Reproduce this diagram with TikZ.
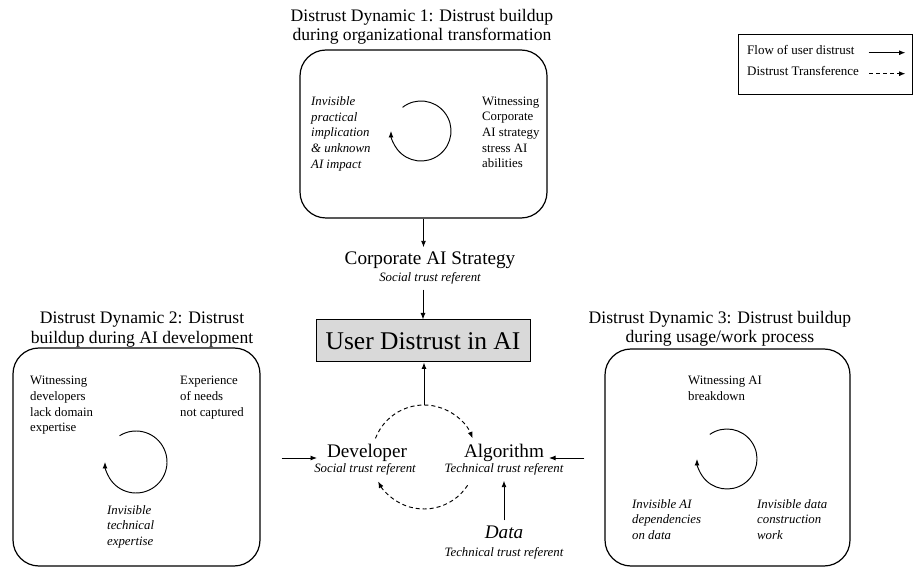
\documentclass[tikz,border=0pt]{standalone}
\usepackage{fontspec}
\setmainfont{Liberation Serif}
\usetikzlibrary{arrows.meta}
\begin{document}
\begin{tikzpicture}[x=1pt,y=-1pt,
  arrowhd/.style={-{Latex[length=6.5pt,width=5pt]}},
  flow/.style={draw, line width=0.95pt, arrowhd},
  transfer/.style={flow, dash pattern=on 4pt off 3pt},
  dynbox/.style={draw, line width=1.2pt, rounded corners=26pt, inner sep=0pt},
  title/.style={font=\fontsize{17.6}{19.3}\selectfont, align=center, anchor=north, inner sep=0pt},
  note/.style={font=\fontsize{12.8}{15.7}\selectfont, align=left, anchor=north west, inner sep=0pt},
  inote/.style={note, font=\fontsize{12.8}{15.7}\selectfont\itshape},
  ref/.style={font=\fontsize{12.8}{15}\selectfont\itshape, anchor=base, inner sep=0pt, outer sep=5pt},
  actor/.style={font=\fontsize{19.2}{22}\selectfont, anchor=base, inner sep=0pt, outer sep=5pt},
  legtext/.style={font=\fontsize{13}{15}\selectfont, anchor=base west, inner sep=0pt},
]
\useasboundingbox (0,0) rectangle (914,569);

% ---- the three distrust dynamics ----
\node[title] (t1) at (422,9) {Distrust Dynamic 1: Distrust buildup\\during organizational transformation};
\node[dynbox, minimum width=247pt, minimum height=168pt] (dyn1) at (423.5,134) {};
\node[inote] (d1a) at (311,96.5) {Invisible\\practical\\implication\\\& unknown\\AI impact};
\node[note] (d1b) at (482,96.5) {Witnessing\\Corporate\\AI strategy\\stress AI\\abilities};
\coordinate (loop1) at (421,131);
\draw[flow] ([shift={(-128:30)}]loop1) arc[start angle=-128, end angle=180, radius=30];

\node[title] (t2) at (142,312) {Distrust Dynamic 2: Distrust\\buildup during AI development};
\node[dynbox, minimum width=247pt, minimum height=218pt] (dyn2) at (136.5,457) {};
\node[note] (d2a) at (30,376) {Witnessing\\developers\\lack domain\\expertise};
\node[note] (d2b) at (180,376) {Experience\\of needs\\not captured};
\node[inote] (d2c) at (107,505) {Invisible\\technical\\expertise};
\coordinate (loop2) at (136,462);
\draw[flow] ([shift={(-122:31)}]loop2) arc[start angle=-122, end angle=180, radius=31];

\node[title] (t3) at (720,311) {Distrust Dynamic 3: Distrust buildup\\during usage/work process};
\node[dynbox, minimum width=245pt, minimum height=217pt] (dyn3) at (727.5,457.5) {};
\node[note] (d3a) at (688,376) {Witnessing AI\\breakdown};
\node[inote] (d3b) at (632,499) {Invisible AI\\dependencies\\on data};
\node[inote] (d3c) at (757,499) {Invisible data\\construction\\work};
\coordinate (loop3) at (727,459);
\draw[flow] ([shift={(-125:30)}]loop3) arc[start angle=-125, end angle=180, radius=30];

% ---- trust referents ----
\node[draw, line width=1pt, fill=black!15, minimum width=214pt, minimum height=42pt, inner sep=0pt,
      font=\fontsize{25.5}{28}\selectfont] (user) at (423,341) {User Distrust in AI};

\node[actor] (corp) at (430,265) {Corporate AI Strategy};
\node[ref] (corpref) at (430,282) {Social trust referent};

\node[actor] (dev) at (367,458) {Developer};
\node[ref] (devref) at (365,473) {Social trust referent};

\node[actor] (alg) at (504,458) {Algorithm};
\node[ref] (algref) at (504,473) {Technical trust referent};

\node[actor, font=\fontsize{19.2}{22}\selectfont\itshape] (data) at (504,538) {Data};
\node[ref] (dataref) at (504,556) {Technical trust referent};

% ---- flows of user distrust ----
\draw[flow] (dyn1.south) -- (dyn1.south |- corp.north);
\draw[flow] (corpref.south -| user.north) -- (user.north);
\draw[flow, shorten <=21pt, shorten >=5pt] (dyn2.east |- dev.base west) -- (dev.base west);
\draw[flow, shorten <=20pt] (dyn3.west |- alg.base east) -- (alg.base east);
\draw[flow] (data.north) -- (data.north |- algref.south);

% ---- distrust transference between developer and algorithm ----
\coordinate (tc) at (424,457);
\coordinate (tctop) at (424,405);
\draw[flow] (tctop) -- (tctop |- user.south);
\draw[transfer] ([shift={(-159:52)}]tc) arc[start angle=-159, end angle=-21, radius=52];
\draw[transfer] ([shift={(33:52)}]tc) arc[start angle=33, end angle=152, radius=52];

% ---- legend ----
\node[draw, line width=1pt, minimum width=174pt, minimum height=60pt, inner sep=0pt] (legend) at (825,65) {};
\node[legtext] (lflow) at (747,55) {Flow of user distrust};
\node[legtext] (ltrans) at (747,76) {Distrust Transference};
\draw[flow, shorten <=14pt, shorten >=7pt] (lflow.mid east) -- (legend.east |- lflow.mid east);
\draw[transfer, shorten <=10pt, shorten >=7pt] (ltrans.mid east) -- (legend.east |- ltrans.mid east);
\end{tikzpicture}
\end{document}
